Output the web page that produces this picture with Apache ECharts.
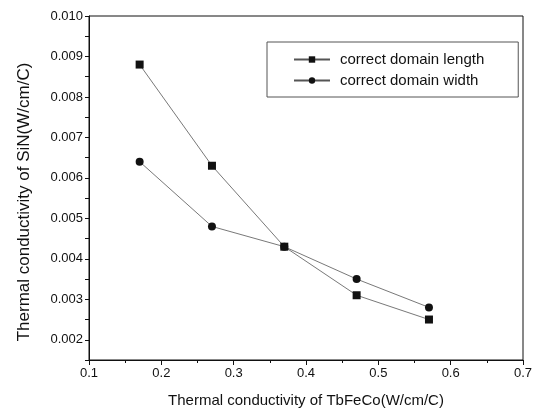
<!DOCTYPE html>
<html>
<head>
<meta charset="utf-8">
<script src="https://cdn.jsdelivr.net/npm/echarts@6/dist/echarts.min.js"></script>
<style>html,body{margin:0;padding:0;background:#fff}#c{width:536px;height:414px}</style>
</head>
<body>
<div id="c"></div>
<script>
var xValues = [0.17, 0.27, 0.37, 0.47, 0.57];
var lengthValues = [0.0088, 0.0063, 0.0043, 0.0031, 0.0025];
var widthValues = [0.0064, 0.0048, 0.0043, 0.0035, 0.0028];
var seriesNames = ['correct domain length', 'correct domain width'];
var xName = 'Thermal conductivity of TbFeCo(W/cm/C)';
var yName = 'Thermal conductivity of SiN(W/cm/C)';
var yLabels = [0.002, 0.003, 0.004, 0.005, 0.006, 0.007, 0.008, 0.009, 0.010];

function pairs(xs, ys) { return xs.map(function (x, i) { return [x, ys[i]]; }); }

var FONT = '"Liberation Sans", Arial, sans-serif';
var chart = echarts.init(document.getElementById('c'), null, { renderer: 'canvas' });
chart.setOption({
  animation: false,
  backgroundColor: '#fff',
  grid: { left: 89, top: 16, right: 13, bottom: 54, show: true, borderColor: '#111', borderWidth: 1, backgroundColor: 'transparent' },
  legend: {
    left: 267, top: 42, orient: 'vertical',
    padding: [10, 34, 9, 26], itemGap: 6, itemWidth: 36, itemHeight: 8,
    borderColor: '#555', borderWidth: 1,
    textStyle: { fontFamily: FONT, fontSize: 15, color: '#111', padding: [0, 0, 0, 5] },
    data: seriesNames
  },
  xAxis: {
    type: 'value', min: 0.1, max: 0.7, interval: 0.1,
    name: xName, nameLocation: 'middle', nameGap: 33,
    nameTextStyle: { fontFamily: FONT, fontSize: 15, color: '#111' },
    axisLine: { lineStyle: { color: '#111', width: 1 } },
    axisTick: { show: true, inside: false, length: 5, lineStyle: { color: '#111' } },
    minorTick: { show: true, splitNumber: 2, length: 3, lineStyle: { color: '#111' } },
    axisLabel: { fontFamily: FONT, fontSize: 13, color: '#111', margin: 7, formatter: function (v) { return String(Math.round(v * 10) / 10); } },
    splitLine: { show: false }
  },
  yAxis: {
    type: 'value', min: 0.0015, max: 0.010, interval: 0.0005,
    name: yName, nameLocation: 'middle', nameGap: 56, nameRotate: 90,
    nameTextStyle: { fontFamily: FONT, fontSize: 17, color: '#111', padding: [0, 28, 0, 0] },
    axisLine: { lineStyle: { color: '#111', width: 1 } },
    axisTick: { show: true, inside: false, length: 4, lineStyle: { color: '#111' } },
    axisLabel: {
      fontFamily: FONT, fontSize: 13, color: '#111', margin: 6, showMinLabel: true,
      formatter: function (v) {
        for (var i = 0; i < yLabels.length; i++) {
          if (Math.abs(v - yLabels[i]) < 1e-9) return yLabels[i].toFixed(3);
        }
        return '';
      }
    },
    splitLine: { show: false }
  },
  series: [
    {
      name: seriesNames[0], type: 'line', data: pairs(xValues, lengthValues),
      symbol: 'rect', symbolSize: 8,
      itemStyle: { color: '#111' },
      lineStyle: { color: '#555', width: 0.8 }
    },
    {
      name: seriesNames[1], type: 'line', data: pairs(xValues, widthValues),
      symbol: 'circle', symbolSize: 8,
      itemStyle: { color: '#111' },
      lineStyle: { color: '#555', width: 0.8 }
    }
  ]
});
</script>
</body>
</html>
